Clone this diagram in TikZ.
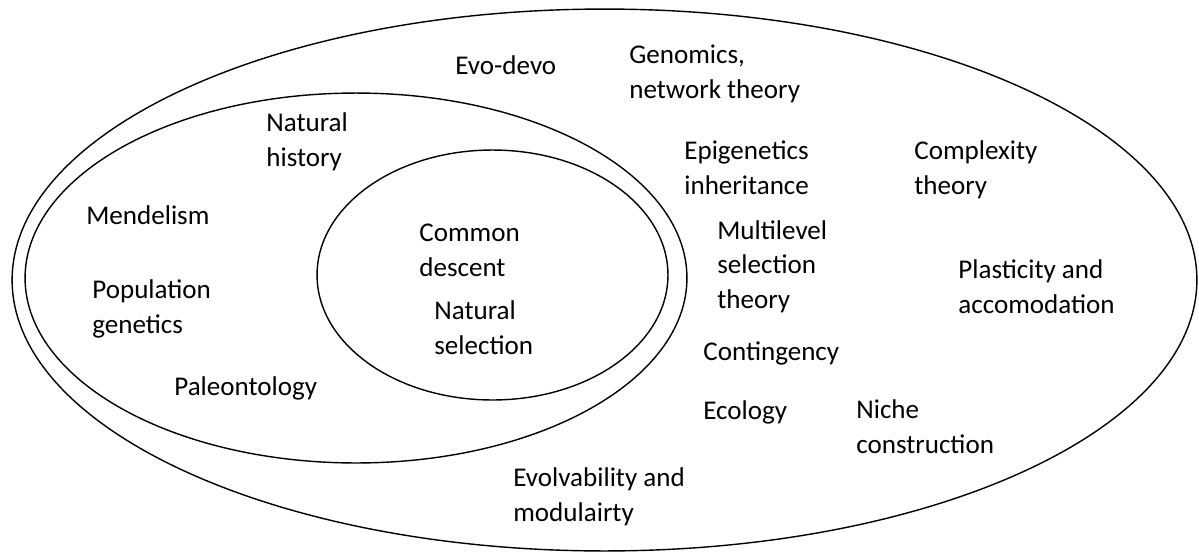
\documentclass[tikz,border=0pt]{standalone}
\usepackage{fontspec}
\setmainfont{Carlito}
\usetikzlibrary{positioning,shapes}
\tikzset {
    style Ring/.style={
        draw=black,
        line width=0.8pt,
        ellipse, % Set the shape as an ellipse
        inner sep=0pt,
    },
    style Label/.style={
        draw=none,
        inner sep=0pt,
        anchor=base west, % base of the last line
        align=left,
        font=\fontsize{15.4}{19.4}\selectfont,
    },
}
\begin{document}
\begin{tikzpicture}
[x=0.02cm, y=-0.02cm]
\useasboundingbox (0,0) rectangle (1199,555);

\node[style Ring, minimum width=23.7cm, minimum height=10.84cm] at (604.5, 280) (outer) {};
\node[style Ring, minimum width=13.24cm, minimum height=7.4cm] at (356, 278) (middle) {};
\node[style Ring, minimum width=7.02cm, minimum height=5cm] at (492.5, 275) (inner) {};

\node[style Label] at (455, 74) (evodevo) {Evo-devo};
\node[style Label] at (629, 98) (genomics) {Genomics,\\network theory};
\node[style Label] at (266, 166) (nathist) {Natural\\history};
\node[style Label] at (684, 194) (epigen) {Epigenetics\\inheritance};
\node[style Label] at (914, 194) (complex) {Complexity\\theory};
\node[style Label] at (86, 224) (mendel) {Mendelism};
\node[style Label] at (717, 308) (multilevel) {Multilevel\\selection\\theory};
\node[style Label] at (419, 276) (descent) {Common\\descent};
\node[style Label] at (958, 313) (plastic) {Plasticity and\\accomodation};
\node[style Label] at (92, 333) (popgen) {Population\\genetics};
\node[style Label] at (434, 354) (natsel) {Natural\\selection};
\node[style Label] at (703, 360) (conting) {Contingency};
\node[style Label] at (174, 395) (paleo) {Paleontology};
\node[style Label] at (703, 419) (ecology) {Ecology};
\node[style Label] at (856, 453) (niche) {Niche\\construction};
\node[style Label] at (513, 521) (evolv) {Evolvability and\\modulairty};
\end{tikzpicture}
\end{document}
